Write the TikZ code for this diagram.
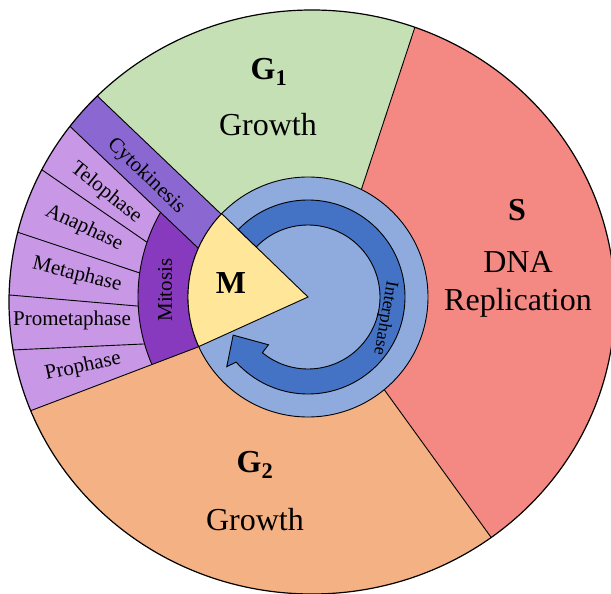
\documentclass[tikz,border=0pt]{standalone}
\usepackage{fontspec}
\setmainfont{Liberation Serif}
\usepackage{xcolor}
\definecolor{gonecol}{RGB}{197,224,180}
\definecolor{scol}{RGB}{244,136,130}
\definecolor{gtwocol}{RGB}{244,177,131}
\definecolor{mcol}{RGB}{255,230,153}
\definecolor{phasecol}{RGB}{200,152,230}
\definecolor{cytocol}{RGB}{139,103,210}
\definecolor{mitocol}{RGB}{136,58,190}
\definecolor{intercol}{RGB}{143,170,220}
\definecolor{arrowcol}{RGB}{68,114,196}

\begin{document}
\begin{tikzpicture}[
  x=1pt, y=-1pt,
  edge/.style={draw=black, line width=0.9pt},
  rim/.style={draw=black, line width=1.2pt},
  phaselbl/.style={font=\fontsize{21}{21}\selectfont, inner sep=0pt},
  biglbl/.style={font=\fontsize{32}{38}\selectfont, align=center, inner sep=0pt},
  boldlbl/.style={font=\fontsize{32}{32}\selectfont\bfseries, inner sep=0pt},
  interlbl/.style={font=\fontsize{18}{18}\selectfont, inner sep=0pt}
]
\useasboundingbox (0,0) rectangle (611,594);
\clip (0,0) rectangle (611,594);
\coordinate (c) at (308,297);

%% Phase sectors, clipped to the outer rim
\begin{scope}
  \clip (312,302) ellipse [x radius=303, y radius=292];
  \fill[gonecol] (c) -- (19.7,21.9) -- (19.7,-20) -- (430.5,-20) -- (348,230) -- cycle;
  \fill[scol] (348,230) -- (430.5,-20) -- (640,-20) -- (640,640) -- (565.4,640) -- (370,370) -- cycle;
  \fill[gtwocol] (370,370) -- (565.4,640) -- (-20,640) -- (-20,430) -- (198,347) -- (c) -- cycle;
  \fill[phasecol] (c) -- (19.7,21.9) -- (-20,21.9) -- (-20,430) -- (198,347) -- cycle;

  %% Mitosis sub-phases
  \draw[edge] (20,154.7) -- (165,254.7);
  \draw[edge] (-10,223) -- (160,279.7);
  \draw[edge] (-10,293.3) -- (160,308);
  \draw[edge] (-10,351) -- (165,343);

  %% Mitosis band
  \begin{scope}
    \clip (260,307) -- (197,247) -- (18.5,77.5) -- (-20,77.5) -- (-20,430) -- (198,347) -- cycle;
    \filldraw[edge, fill=mitocol] (c) circle [radius=170];
  \end{scope}

  %% Cytokinesis strip
  \filldraw[edge, fill=cytocol] (c) -- (19.7,21.9) -- (18.5,77.5) -- (197,247) -- (260,307) -- cycle;

  %% Sector borders
  \draw[edge] (348,230) -- (430.5,-20);
  \draw[edge] (370,370) -- (565.4,640);
  \draw[edge] (198,347) -- (-20,430);
\end{scope}
\draw[rim] (312,302) ellipse [x radius=303, y radius=292];

%% Interphase disc, M wedge and cycle arrow
\draw[edge, fill=intercol] (c) circle [radius=120];
\filldraw[edge, fill=mcol] (c) -- ++(155.6:120) arc[start angle=155.6, end angle=224, radius=120] -- cycle;
\begin{scope}[shift={(c)}]
  \filldraw[edge, fill=arrowcol] (-136:97) arc[start angle=-136, end angle=137.8, radius=97]
    -- (139.4:107) -- (153:84) -- (129.6:62) -- (129.3:72)
    arc[start angle=129.3, end angle=-136, radius=72] -- cycle;
\end{scope}

%% Labels
\node[boldlbl] (gonelbl) at (269,72) {G\textsubscript{1}};
\node[biglbl] (gonetxt) at (268,125) {Growth};
\node[boldlbl] (slbl) at (517,210) {S};
\node[biglbl] (stxt) at (518,284) {DNA\\Replication};
\node[boldlbl] (gtwolbl) at (255,465) {G\textsubscript{2}};
\node[biglbl] (gtwotxt) at (255,520) {Growth};
\node[boldlbl] (mlbl) at (231,283) {M};
\node[phaselbl, rotate=90] (mito) at (165,290) {Mitosis};
\node[phaselbl, rotate=-44] (cyto) at (146,176) {Cytokinesis};
\node[phaselbl, rotate=-39] (telo) at (106,193) {Telophase};
\node[phaselbl, rotate=-25] (ana) at (84,228) {Anaphase};
\node[phaselbl, rotate=-14] (meta) at (77,275) {Metaphase};
\node[phaselbl] (prometa) at (72,320) {Prometaphase};
\node[phaselbl, rotate=12] (pro) at (83,367) {Prophase};
\node[interlbl, rotate=-100] (inter) at (385,318) {Interphase};

\end{tikzpicture}
\end{document}
